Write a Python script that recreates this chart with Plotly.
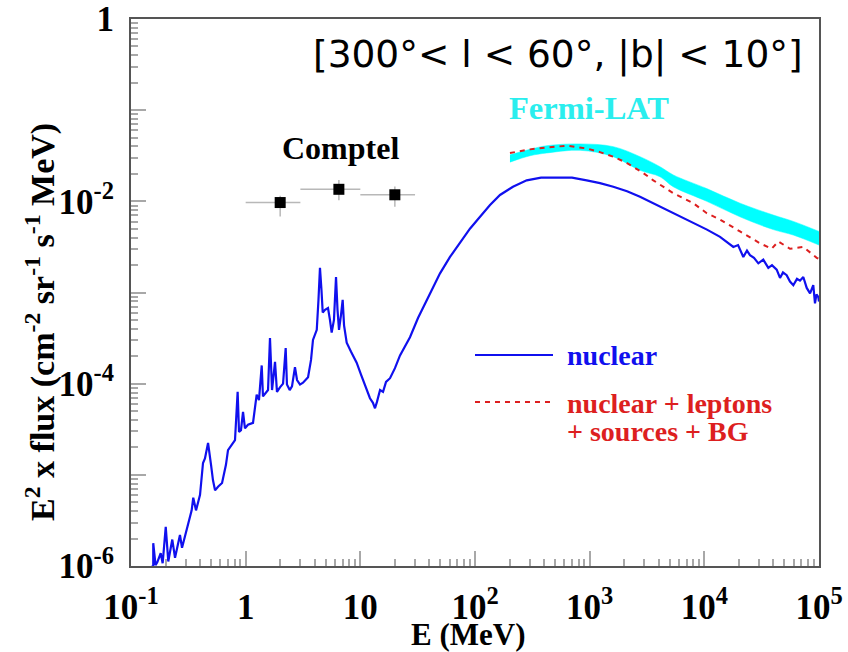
import numpy as np
import plotly.graph_objects as go

# ---------------- data ----------------
# nuclear model (blue solid): log10(E / MeV), log10(E^2 flux)
nuclear_log10_E = [
    -0.834, -0.806, -0.806, -0.786, -0.771, -0.741, -0.724, -0.697, -0.675, -0.640,
    -0.616, -0.590, -0.573, -0.555, -0.514, -0.471, -0.457, -0.433, -0.398, -0.372,
    -0.355, -0.328, -0.302, -0.285, -0.267, -0.241, -0.206, -0.172, -0.154, -0.119,
    -0.093, -0.070, -0.058, -0.041, -0.023, -0.006, 0.020, 0.064, 0.096, 0.116,
    0.140, 0.151, 0.177, 0.195, 0.212, 0.230, 0.256, 0.273, 0.299, 0.326,
    0.349, 0.360, 0.384, 0.404, 0.430, 0.448, 0.474, 0.500, 0.544, 0.570,
    0.587, 0.620, 0.635, 0.648, 0.661, 0.672, 0.692, 0.718, 0.735, 0.750,
    0.770, 0.788, 0.801, 0.814, 0.831, 0.846, 0.858, 0.881, 0.919, 0.968,
    1.006, 1.056, 1.084, 1.110, 1.128, 1.145, 1.172, 1.198, 1.224, 1.259,
    1.302, 1.346, 1.433, 1.503, 1.579, 1.634, 1.695, 1.782, 1.869, 1.956,
    2.044, 2.131, 2.218, 2.331, 2.451, 2.576, 2.712, 2.846, 2.974, 3.090,
    3.206, 3.326, 3.439, 3.552, 3.672, 3.788, 3.904, 4.023, 4.137, 4.253,
    4.294, 4.340, 4.372, 4.398, 4.433, 4.471, 4.514, 4.558, 4.590, 4.631,
    4.660, 4.686, 4.718, 4.747, 4.776, 4.808, 4.834, 4.863, 4.893, 4.922,
    4.950, 4.965, 4.978, 4.994, 5.000,
]
nuclear_log10_F = [
    -6.02, -6.00, -5.75, -5.99, -5.96, -5.86, -5.97, -5.57, -5.95, -5.71,
    -5.91, -5.77, -5.66, -5.80, -5.61, -5.39, -5.25, -5.39, -5.22, -4.87,
    -4.82, -4.65, -4.89, -5.06, -5.17, -5.13, -5.09, -4.89, -4.73, -4.67,
    -4.62, -4.09, -4.53, -4.51, -4.31, -4.49, -4.45, -4.43, -4.12, -4.18,
    -3.80, -4.14, -4.09, -4.07, -3.50, -4.07, -3.76, -4.09, -4.04, -4.00,
    -3.61, -4.01, -4.07, -4.03, -3.82, -3.96, -4.01, -3.99, -3.93, -3.74,
    -3.52, -3.41, -3.08, -2.73, -2.97, -3.22, -3.19, -3.17, -3.30, -3.44,
    -3.30, -2.83, -3.19, -3.41, -3.25, -3.08, -3.36, -3.55, -3.65, -3.77,
    -3.90, -4.07, -4.16, -4.21, -4.27, -4.20, -4.07, -4.09, -3.98, -3.94,
    -3.83, -3.69, -3.49, -3.28, -3.08, -2.94, -2.79, -2.61, -2.46, -2.30,
    -2.17, -2.04, -1.93, -1.84, -1.77, -1.74, -1.74, -1.74, -1.77, -1.80,
    -1.84, -1.89, -1.95, -2.02, -2.10, -2.17, -2.24, -2.31, -2.39, -2.50,
    -2.48, -2.61, -2.54, -2.59, -2.62, -2.68, -2.64, -2.73, -2.70, -2.75,
    -2.84, -2.78, -2.81, -2.88, -2.92, -2.85, -2.87, -2.83, -2.95, -3.01,
    -2.92, -3.12, -3.02, -3.05, -3.10,
]

# nuclear + leptons + sources + BG (red dashed)
total_log10_E = [2.305, 2.480, 2.625, 2.800, 2.974, 3.090, 3.206, 3.326, 3.468, 3.555,
                 3.729, 3.904, 4.021, 4.137, 4.311, 4.485, 4.587, 4.645, 4.747, 4.863,
                 4.980, 5.000]
total_log10_F = [-1.47, -1.43, -1.41, -1.39, -1.42, -1.46, -1.51, -1.58, -1.69, -1.77,
                 -1.91, -2.02, -2.13, -2.20, -2.33, -2.46, -2.52, -2.44, -2.52, -2.50,
                 -2.62, -2.63]

# Fermi-LAT band (upper / lower edge)
fermi_log10_E = [2.305, 2.480, 2.625, 2.916, 3.206, 3.439, 3.613, 3.729, 4.021, 4.311,
                 4.601, 4.776, 5.000]
fermi_upper_log10_F = [-1.49, -1.43, -1.39, -1.37, -1.40, -1.51, -1.62, -1.71, -1.86, -2.02,
                       -2.15, -2.22, -2.33]
fermi_lower_log10_F = [-1.57, -1.50, -1.47, -1.44, -1.51, -1.66, -1.73, -1.84, -2.00, -2.17,
                       -2.31, -2.37, -2.48]

# COMPTEL points (MeV)
comptel_E = [2.0, 6.5, 20.0]
comptel_E_lo = [1.0, 3.0, 10.0]
comptel_E_hi = [3.0, 10.0, 30.0]
comptel_F = [9.7e-3, 1.355e-2, 1.18e-2]
comptel_F_lo = [6.8e-3, 1.03e-2, 8.7e-3]
comptel_F_hi = [1.15e-2, 1.71e-2, 1.45e-2]

# axis ticks
x_tick_vals = [1e-1, 1, 10, 1e2, 1e3, 1e4, 1e5]
x_tick_text = ["10<sup>-1</sup>", "1", "10", "10<sup>2</sup>", "10<sup>3</sup>",
               "10<sup>4</sup>", "10<sup>5</sup>"]
y_tick_vals = [1e-6, 1e-5, 1e-4, 1e-3, 1e-2, 1e-1, 1]
y_tick_text = ["10<sup>-6</sup>", "", "10<sup>-4</sup>", "", "10<sup>-2</sup>", "", "1"]

# ---------------- figure ----------------
W, H = 848, 652
L, R, T, B = 131, 29, 19, 86
pw, ph = W - L - R, H - T - B


def px(x):
    return (x - L) / pw


def py(y):
    return (H - B - y) / ph


SERIF = "Liberation Serif"
BLUE = "#1010ee"
RED = "#dd1f1f"
CYAN = "#00ffff"

fig = go.Figure()

fE = 10 ** np.array(fermi_log10_E)
fig.add_trace(go.Scatter(x=fE, y=10 ** np.array(fermi_lower_log10_F), mode="lines",
                         line=dict(width=0.5, color=CYAN), showlegend=False,
                         line_shape="spline"))
fig.add_trace(go.Scatter(x=fE, y=10 ** np.array(fermi_upper_log10_F), mode="lines",
                         line=dict(width=0.5, color=CYAN), fill="tonexty",
                         fillcolor=CYAN, showlegend=False, line_shape="spline"))

fig.add_trace(go.Scatter(x=10 ** np.array(nuclear_log10_E), y=10 ** np.array(nuclear_log10_F),
                         mode="lines", line=dict(color=BLUE, width=2.2), showlegend=False))

fig.add_trace(go.Scatter(x=10 ** np.array(total_log10_E), y=10 ** np.array(total_log10_F),
                         mode="lines", line=dict(color=RED, width=2, dash="5px,5px"),
                         showlegend=False))

cE = np.array(comptel_E)
cF = np.array(comptel_F)
fig.add_trace(go.Scatter(
    x=cE, y=cF, mode="markers",
    marker=dict(symbol="square", size=11, color="black"),
    error_x=dict(type="data", symmetric=False, array=np.array(comptel_E_hi) - cE,
                 arrayminus=cE - np.array(comptel_E_lo), color="#b8b8b8", thickness=1.5, width=0),
    error_y=dict(type="data", symmetric=False, array=np.array(comptel_F_hi) - cF,
                 arrayminus=cF - np.array(comptel_F_lo), color="#b8b8b8", thickness=1.5, width=0),
    showlegend=False))

x_minor = [m * 10.0 ** k for k in range(-1, 5) for m in range(2, 10)]
y_minor = [m * 10.0 ** k for k in range(-6, 0) for m in range(2, 10)]

axis_common = dict(
    type="log", showgrid=False, zeroline=False,
    showline=True, linecolor="#555555", linewidth=2, mirror=True,
    ticks="inside", ticklen=15, tickwidth=1.5, tickcolor="#a8a8a8",
    tickmode="array",
    tickfont=dict(family=SERIF, size=35, color="black"),
)

fig.update_xaxes(**axis_common, range=[-1, 5],
                 tickvals=x_tick_vals, ticktext=["<b>%s</b>" % t for t in x_tick_text],
                 ticklabelstandoff=9,
                 minor=dict(tickmode="array", tickvals=x_minor, ticks="inside", ticklen=7,
                            tickwidth=1.5, tickcolor="#a8a8a8"))
fig.update_yaxes(**axis_common, range=[-6, 0],
                 tickvals=y_tick_vals, ticktext=["<b>%s</b>" % t if t else "" for t in y_tick_text],
                 ticklabelstandoff=8,
                 minor=dict(tickmode="array", tickvals=y_minor, ticks="inside", ticklen=7,
                            tickwidth=1.5, tickcolor="#a8a8a8"))

ann = []
ann.append(dict(x=px(468), y=py(634), text="<b>E (MeV)</b>", borderpad=0,
                font=dict(family=SERIF, size=31, color="black")))
ann.append(dict(x=px(40), y=py(322), textangle=-90,
                text="<b>E<sup>2</sup> x flux (cm<sup>-2</sup> sr<sup>-1</sup> s<sup>-1</sup> MeV)</b>",
                font=dict(family=SERIF, size=34, color="black")))
ann.append(dict(x=px(805), y=py(54), xanchor="right", text="[300°< l < 60°, |b| < 10°]",
                font=dict(family="DejaVu Sans", size=37.5, color="black")))
ann.append(dict(x=px(340), y=py(148), text="<b>Comptel</b>",
                font=dict(family=SERIF, size=32, color="black")))
ann.append(dict(x=px(589), y=py(108), text="<b>Fermi-LAT</b>",
                font=dict(family=SERIF, size=32.5, color="#2aeeee")))
ann.append(dict(x=px(565), y=py(355), xanchor="left", text="<b>nuclear</b>",
                font=dict(family=SERIF, size=28, color=BLUE)))
ann.append(dict(x=px(565), y=py(403), xanchor="left", text="<b>nuclear + leptons</b>",
                font=dict(family=SERIF, size=28, color=RED)))
ann.append(dict(x=px(565), y=py(431), xanchor="left", text="<b>+ sources + BG</b>",
                font=dict(family=SERIF, size=28, color=RED)))
for a in ann:
    a.setdefault("xref", "paper")
    a.setdefault("yref", "paper")
    a.setdefault("xanchor", "center")
    a.setdefault("yanchor", "middle")
    a.setdefault("showarrow", False)

shapes = [
    dict(type="line", xref="paper", yref="paper", x0=px(475), x1=px(553), y0=py(355), y1=py(355),
         line=dict(color=BLUE, width=2)),
    dict(type="line", xref="paper", yref="paper", x0=px(475), x1=px(553), y0=py(402), y1=py(402),
         line=dict(color=RED, width=2, dash="5px,5px")),
]

fig.update_layout(
    width=W, height=H,
    margin=dict(l=L, r=R, t=T, b=B, autoexpand=False),
    paper_bgcolor="white", plot_bgcolor="white",
    annotations=ann, shapes=shapes,
    showlegend=False,
)

fig.write_html("out.html")
